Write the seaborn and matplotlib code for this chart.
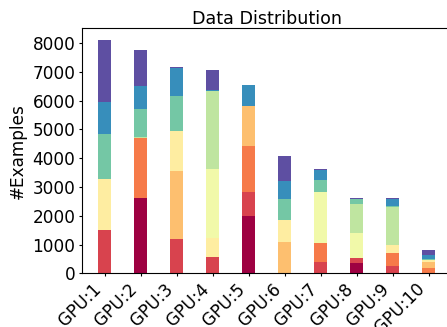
import numpy as np
import pandas as pd
import matplotlib
matplotlib.use("Agg")
import matplotlib.pyplot as plt
import seaborn as sns

gpus = ["GPU:1", "GPU:2", "GPU:3", "GPU:4", "GPU:5",
        "GPU:6", "GPU:7", "GPU:8", "GPU:9", "GPU:10"]
class_0 = [0, 2619, 0, 0, 1993, 0, 0, 358, 0, 0]
class_1 = [1506, 0, 1193, 567, 835, 0, 393, 174, 254, 0]
class_2 = [0, 2087, 0, 0, 1600, 0, 661, 0, 452, 185]
class_3 = [0, 0, 2365, 0, 1391, 1089, 0, 0, 0, 208]
class_4 = [1774, 0, 1392, 670, 0, 765, 0, 0, 278, 70]
class_5 = [0, 0, 0, 2390, 0, 0, 1774, 870, 0, 0]
class_6 = [0, 35, 0, 2703, 0, 0, 0, 1008, 1322, 0]
class_7 = [1565, 974, 1217, 0, 0, 730, 417, 174, 35, 35]
class_8 = [1113, 800, 974, 35, 706, 626, 350, 0, 243, 140]
class_9 = [2157, 1252, 35, 687, 25, 870, 35, 35, 35, 173]
yticks = [0, 1000, 2000, 3000, 4000, 5000, 6000, 7000, 8000]

classes = [class_0, class_1, class_2, class_3, class_4,
           class_5, class_6, class_7, class_8, class_9]
class_names = [f"class {i}" for i in range(len(classes))]

rows = []
for name, vals in zip(class_names, classes):
    for g, v in zip(gpus, vals):
        rows.append({"gpu": g, "cls": name, "count": v})
df = pd.DataFrame(rows)
df["gpu"] = pd.Categorical(df["gpu"], categories=gpus, ordered=True)

cols = plt.cm.Spectral(np.linspace(0, 1, len(classes)))
pal = {n: c for n, c in zip(class_names, cols)}

fig = plt.figure(figsize=(4.47, 3.27), dpi=100)
ax = fig.add_axes([82 / 447, 1 - 273.3 / 327, (451 - 82) / 447, (273.3 - 28) / 327])

sns.histplot(data=df, x="gpu", hue="cls", weights="count", multiple="stack",
             hue_order=class_names[::-1], palette=pal, shrink=0.36,
             discrete=True, alpha=1, linewidth=0, legend=False, ax=ax)

ax.set_xlim(-0.625, 9.625)
ax.set_ylim(0, 8521)
ax.set_yticks(yticks)
ax.set_yticklabels([str(t) for t in yticks], fontsize=12.2)
ax.set_xticks(range(len(gpus)))
ax.set_xticklabels(gpus, rotation=45, ha="right", fontsize=12.2)
ax.tick_params(axis="both", length=2.2, pad=2.6, width=0.8)
ax.set_xlabel("")
ax.set_ylabel("#Examples", fontsize=12.2, labelpad=4)
ax.set_title("Data Distribution", fontsize=12.6, pad=1.5)

fig.savefig("out.png", dpi=100)
